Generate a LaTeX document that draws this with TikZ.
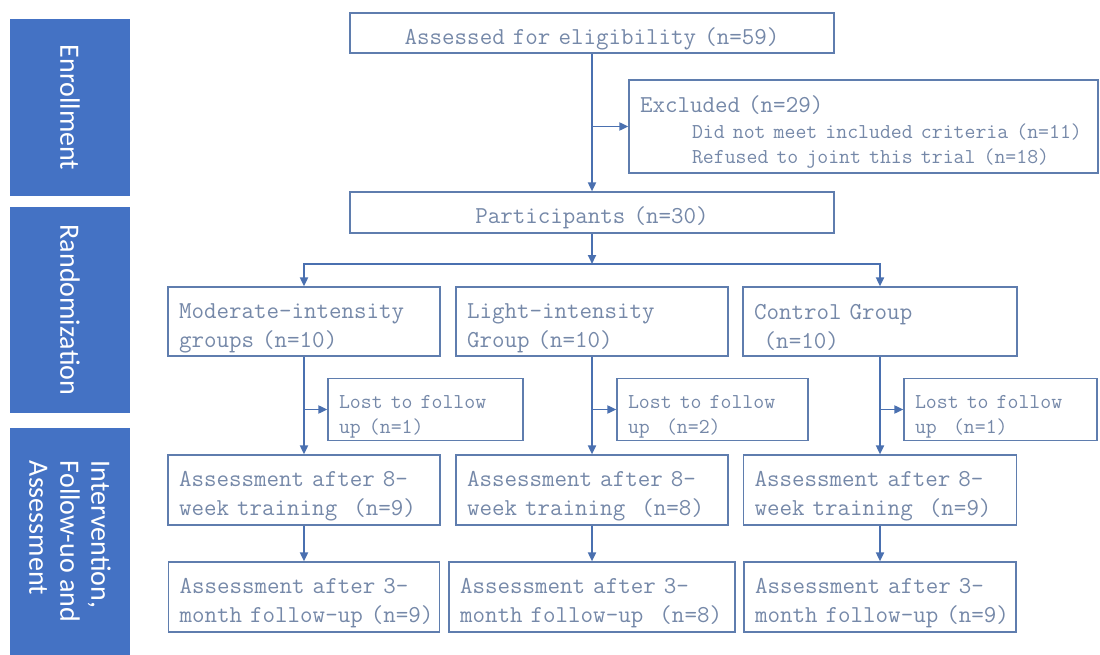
\documentclass[tikz,border=0pt]{standalone}
\usepackage{fontspec}
\newfontfamily\barfamily{Carlito}
\usetikzlibrary{arrows.meta}
\definecolor{barblue}{HTML}{4472C4}
\definecolor{linecol}{HTML}{4A70B0}
\definecolor{boxcol}{HTML}{5F7DAE}
\definecolor{txtcol}{HTML}{7588A8}
\newcommand\boxfont{\ttfamily\fontsize{24.3}{29}\selectfont}
\newcommand\notefont{\ttfamily\fontsize{21.2}{25.5}\selectfont}
\newcommand\barfont{\barfamily\fontsize{28}{31}\selectfont}
\begin{document}
\begin{tikzpicture}
		[x=1pt,y=-1pt,
			boxDecorate/.style={draw=boxcol,line width=1.2pt,inner xsep=11pt,inner ysep=0pt,text=txtcol,font=\boxfont},
			barDecorate/.style={fill=barblue,text=white,rotate=-90,minimum height=120pt,inner sep=0pt,align=left,font=\barfont},
			arrowDecorate/.style={draw=linecol,line width=1.8pt,-{Triangle[length=9pt,width=8pt]}}]
		\useasboundingbox (0,0) rectangle (1100,655);
		% phase bars on the left
		\foreach \nodename/\y/\len/\txt in {
				enroll/107.5/177/Enrollment, rand/310/206/Randomization,
				interv/541.5/227/{Intervention,\\Follow-uo and\\Assessment}}
			{
				\node (\nodename) at (70,\y) [barDecorate,minimum width=\len pt] {\txt};
			}
		% flow boxes
		\foreach \nodename/\x/\y/\bw/\bh/\algn/\txt in {
				elig/592/33/484/40/center/{Assessed for eligibility (n=59)},
				excl/863.5/126.5/469/93/left/{Excluded (n=29)\\\notefont\hspace*{52pt}Did not meet included criteria (n=11)\\\hspace*{52pt}Refused to joint this trial (n=18)},
				part/592/212.5/484/41/center/{Participants (n=30)},
				mod/304/321.5/272/69/left/{Moderate-intensity\\groups (n=10)},
				light/592/321.5/272/69/left/{Light-intensity\\Group (n=10)},
				ctrl/880/321.5/274/69/left/{Control Group\\\hspace*{.4em}(n=10)},
				lostA/425.5/409.5/195/62/left/{\notefont Lost to follow\\up (n=1)},
				lostB/712.5/409.5/191/62/left/{\notefont Lost to follow\\up~~(n=2)},
				lostC/1000.5/409.5/193/62/left/{\notefont Lost to follow\\up~~(n=1)},
				wkA/304/490/272/70/left/{Assessment after 8-\\week training~~(n=9)},
				wkB/592/490/272/70/left/{Assessment after 8-\\week training~~(n=8)},
				wkC/880/490/273/70/left/{Assessment after 8-\\week training~~(n=9)},
				moA/304/597/271/70/left/{Assessment after 3-\\\mbox{month follow-up (n=9)}},
				moB/592/597/286/70/left/{Assessment after 3-\\\mbox{month follow-up~~(n=8)}},
				moC/880/597/272/70/left/{Assessment after 3-\\\mbox{month follow-up (n=9)}}}
			{
				\pgfmathsetmacro{\tw}{\bw-22}
				\node (\nodename) at (\x,\y) [boxDecorate,minimum width=\bw pt,minimum height=\bh pt,text width=\tw pt,align=\algn] {\rule{0pt}{28pt}\txt\par};
			}
		% connectors
		\coordinate (split) at (592,264);
		\draw[arrowDecorate] (elig) -- (part);
		\draw[arrowDecorate] (elig |- excl.west) -- (excl.west);
		\draw[arrowDecorate] (part) -- (split);
		\draw[arrowDecorate] (split) -| (mod);
		\draw[arrowDecorate] (split) -| (ctrl);
		\foreach \gnode/\lnode/\wnode/\fnode in {
				mod/lostA/wkA/moA, light/lostB/wkB/moB, ctrl/lostC/wkC/moC}
			{
				\draw[arrowDecorate] (\gnode) -- (\wnode);
				\draw[arrowDecorate] (\gnode |- \lnode.west) -- (\lnode.west);
				\draw[arrowDecorate] (\wnode) -- (\fnode);
			}
	\end{tikzpicture}
\end{document}
